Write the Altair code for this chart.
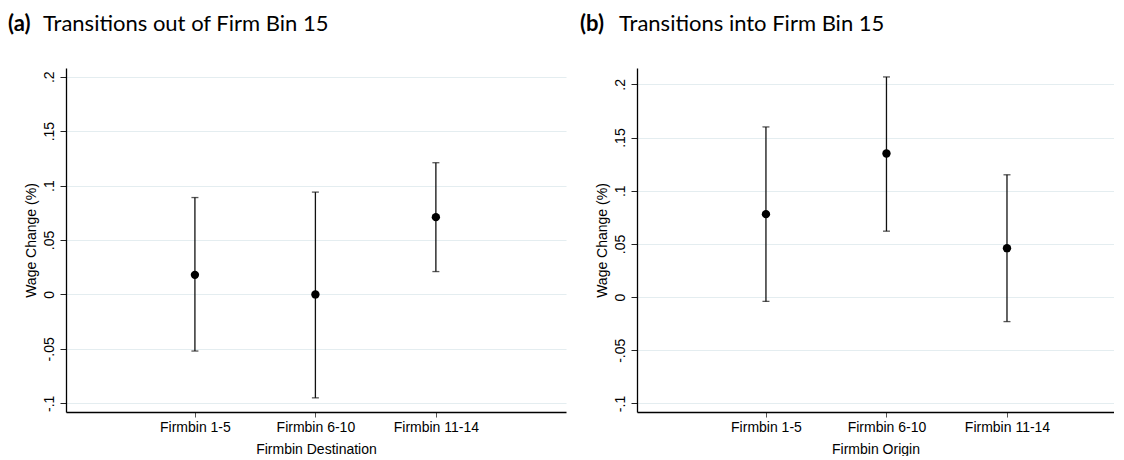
import altair as alt
import pandas as pd

# ---- data ----
categories = ["Firmbin 1-5", "Firmbin 6-10", "Firmbin 11-14"]
positions = [1, 2, 3]

out_est = [0.018, 0.000, 0.071]
out_lo = [-0.052, -0.095, 0.021]
out_hi = [0.089, 0.094, 0.121]

in_est = [0.078, 0.135, 0.046]
in_lo = [-0.004, 0.062, -0.023]
in_hi = [0.160, 0.207, 0.115]

y_ticks = [-0.1, -0.05, 0, 0.05, 0.1, 0.15, 0.2]

AXIS_FONT = "Liberation Sans"
TITLE_FONT = "Lato"
INK = "#111111"

x_label_expr = " : ".join(
    f"datum.value == {p} ? '{c}'" for p, c in zip(positions, categories)
) + " : ''"
y_label_expr = ("(datum.value < 0 ? '-' : '') + "
                "replace(format(abs(datum.value), '.2~f'), '0.', '.')")


def panel(est, lo, hi, xtitle, letter, title, width, xdomain, ydomain,
          letter_dx, title_dx):
    df = pd.DataFrame({"pos": positions, "cat": categories,
                       "est": est, "lo": lo, "hi": hi})
    xscale = alt.Scale(domain=xdomain, nice=False, zero=False)
    yscale = alt.Scale(domain=ydomain, nice=False, zero=False)
    xaxis = alt.Axis(values=positions, labelExpr=x_label_expr, grid=False,
                     title=xtitle, tickSize=5, tickColor="#555555",
                     domainColor="black", domainWidth=1.3,
                     labelFont=AXIS_FONT, labelFontSize=14, labelColor="black",
                     labelPadding=3, titleFont=AXIS_FONT, titleFontSize=14,
                     titleFontWeight="normal", titleColor="black",
                     titlePadding=8)
    yaxis = alt.Axis(values=y_ticks, labelExpr=y_label_expr, grid=True,
                     gridColor="#e4edf0", gridWidth=1.2,
                     title="Wage Change (%)", tickSize=6, tickColor="#222222",
                     domainColor="black", domainWidth=1.3,
                     labelAngle=270, labelAlign="center",
                     labelBaseline="bottom", labelPadding=4,
                     labelFont=AXIS_FONT, labelFontSize=14, labelColor="black",
                     titleFont=AXIS_FONT, titleFontSize=14,
                     titleFontWeight="normal", titleColor="black",
                     titlePadding=4)
    bars = alt.Chart(df).mark_errorbar(
        ticks={"size": 7, "thickness": 1.3, "color": INK},
        thickness=1.3, color=INK,
    ).encode(
        x=alt.X("pos:Q", scale=xscale, axis=xaxis),
        y=alt.Y("lo:Q", scale=yscale, axis=yaxis),
        y2="hi:Q",
    )
    pts = alt.Chart(df).mark_point(
        filled=True, size=70, color="black", opacity=1
    ).encode(
        x=alt.X("pos:Q", scale=xscale, axis=xaxis),
        y=alt.Y("est:Q", scale=yscale, axis=yaxis),
    )
    one = pd.DataFrame({"k": [0]})
    t_letter = alt.Chart(one).mark_text(
        text=letter, font=TITLE_FONT, fontSize=22, fontWeight="bold",
        align="left", baseline="alphabetic", color="black",
    ).encode(x=alt.value(letter_dx), y=alt.value(-37))
    t_title = alt.Chart(one).mark_text(
        text=title, font=TITLE_FONT, fontSize=22, fontWeight="normal",
        align="left", baseline="alphabetic", color="black",
    ).encode(x=alt.value(title_dx), y=alt.value(-37))
    return alt.layer(bars, pts, t_letter, t_title).properties(
        width=width, height=344
    )


pa = panel(out_est, out_lo, out_hi, "Firmbin Destination", "(a)",
           "Transitions out of Firm Bin 15", 500, [-0.07, 4.08],
           [-0.108, 0.208], -58, -23)
pb = panel(in_est, in_lo, in_hi, "Firmbin Origin", "(b)",
           "Transitions into Firm Bin 15", 477, [-0.07, 3.888],
           [-0.108, 0.2154], -57, -18)

chart = alt.hconcat(pa, pb, spacing=14).properties(
    padding={"left": 0, "top": 5, "right": 0, "bottom": 0},
    background="white",
).configure_view(stroke=None)

chart.save("out.html", embed_options={"renderer": "svg", "actions": False})
